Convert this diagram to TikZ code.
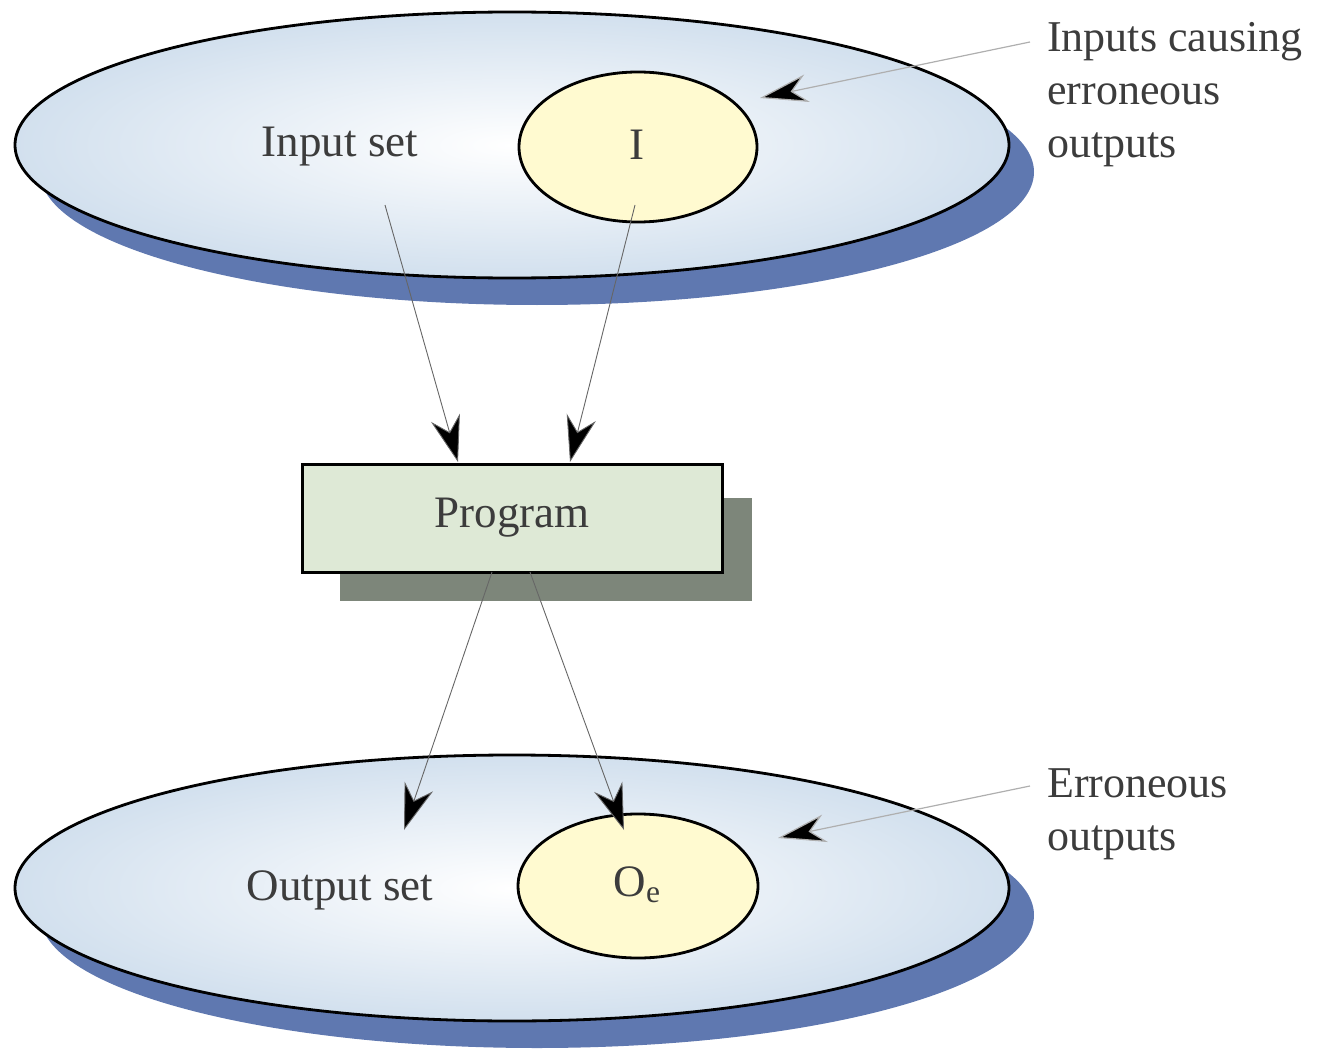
\documentclass[tikz,border=0pt]{standalone}
\usepackage{fontspec}
\setmainfont{Liberation Serif}
\usetikzlibrary{arrows.meta,shapes.geometric}
\definecolor{setblue}{RGB}{210,224,238}
\definecolor{shadowblue}{RGB}{95,120,176}
\definecolor{ivory}{RGB}{255,250,208}
\definecolor{progfill}{RGB}{222,233,214}
\definecolor{progshadow}{RGB}{125,134,122}
\definecolor{txtgray}{RGB}{60,60,60}
\definecolor{leader}{RGB}{175,175,175}
\begin{document}
\begin{tikzpicture}[x=1pt,y=-1pt,
  bigset/.style={draw=black, line width=2.8pt, ellipse, minimum width=994pt, minimum height=266pt, inner sep=0pt, inner color=white, outer color=setblue},
  subset/.style={draw=black, line width=2.8pt, ellipse, fill=ivory, inner sep=0pt},
  settext/.style={font=\fontsize{45}{50}\selectfont, text=txtgray},
  labeltext/.style={font=\fontsize{44}{53}\selectfont, text=txtgray, align=left, anchor=north west, inner sep=0pt},
  flow/.style={draw=black!60, line width=0.9pt, -{Stealth[length=46pt, width=30pt, inset=15pt, fill=black]}},
  pointer/.style={draw=leader, line width=1.2pt, -{Stealth[length=48pt, width=28pt, inset=15pt, fill=black]}}
]
\useasboundingbox (0,0) rectangle (1331,1051);
% shadows
\fill[shadowblue] (537,172) ellipse [x radius=497pt, y radius=133pt];
\fill[shadowblue] (537,915) ellipse [x radius=497pt, y radius=133pt];
% sets
\node[bigset] (inset) at (512,145) {};
\node[bigset] (outset) at (512,888) {};
\node[subset, minimum width=238pt, minimum height=150pt] (ierr) at (638,147) {};
\node[subset, minimum width=240pt, minimum height=144pt] (oerr) at (638,886) {};
\node[settext] (inlabel) at (340,147) {Input set};
\node[settext] (ilabel) at (637,145) {I};
\node[settext] (outlabel) at (340,890) {Output set};
\node[settext] (olabel) at (637,885) {O\textsubscript{e}};
% program
\fill[progshadow] (340,498) rectangle (752,601);
\node[draw=black, line width=3pt, fill=progfill, minimum width=420pt, minimum height=108pt, inner sep=0pt, settext] (prog) at (512,518) {Program};
% flow arrows
\coordinate (a1) at (385,205);
\coordinate (a2) at (635,205);
\draw[flow] (a1) -- (458,462);
\draw[flow] (a2) -- (570,462);
\coordinate (b1) at (492,572);
\coordinate (b2) at (530,572);
\coordinate (c1) at (404,830);
\coordinate (c2) at (624,830);
\draw[flow] (b1) -- (c1);
\draw[flow] (b2) -- (c2);
% annotations
\node[labeltext] (lab1) at (1047,22) {Inputs causing\\erroneous\\outputs};
\node[labeltext] (lab2) at (1047,768) {Erroneous\\outputs};
\coordinate (p1) at (1030,42);
\coordinate (t1) at (760,98);
\coordinate (p2) at (1030,786);
\coordinate (t2) at (778,838);
\draw[pointer] (p1) -- (t1);
\draw[pointer] (p2) -- (t2);
\end{tikzpicture}
\end{document}
